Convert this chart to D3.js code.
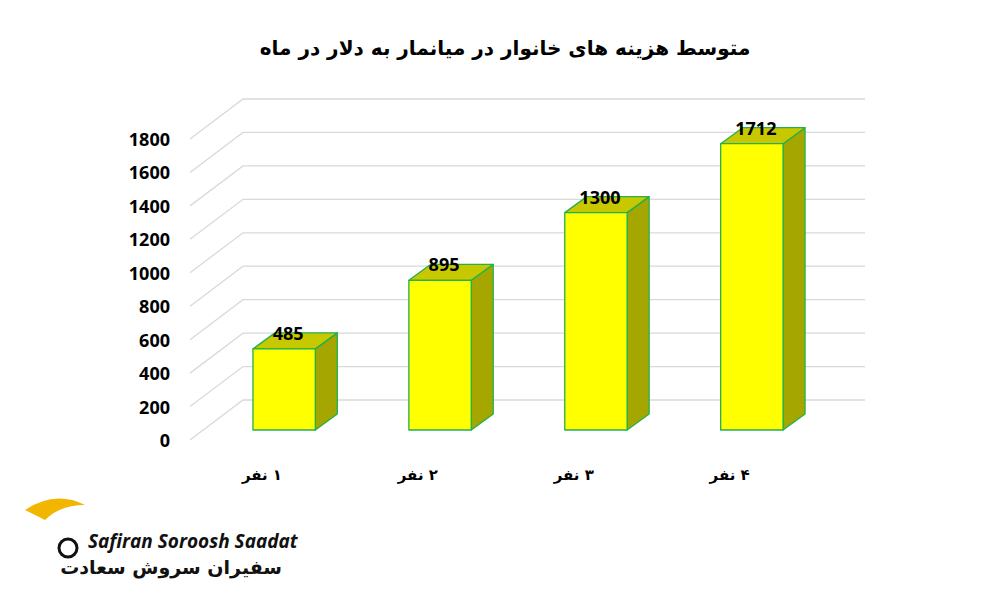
<!DOCTYPE html>
<html><head><meta charset="utf-8">
<script src="https://cdn.jsdelivr.net/npm/d3@7"></script>
<style>body{margin:0;background:#fff}</style></head>
<body><svg id="c" width="1000" height="600"></svg>
<script>
var categories = ["۱ نفر", "۲ نفر", "۳ نفر", "۴ نفر"];
var values = [485, 895, 1300, 1712];
var ticks = [0, 200, 400, 600, 800, 1000, 1200, 1400, 1600, 1800];

var svg = d3.select("#c");
var y = d3.scaleLinear().domain([0, 1800]).range([430, 129]);
var x = d3.scaleBand().domain(categories).range([175, 861]).paddingInner(0.6).paddingOuter(0.5);
var dx = 22, dy = -16;

// gridlines: front diagonal + back horizontal
var g = svg.append("g").attr("stroke", "#d9d9d9").attr("stroke-width", 1.3).attr("fill", "none");
ticks.forEach(function (t) {
    var yf = y(t) + 10, yb = y(t) - 30;
    g.append("path").attr("d", "M190," + yf + "L243," + yb + "H865");
});

svg.append("g").selectAll("text").data(ticks).join("text")
    .attr("x", 170).attr("y", function (d) { return y(d) + 17; })
    .attr("text-anchor", "end")
    .style("font", "bold 18px 'Open Sans', sans-serif").text(function (d) { return d; });

var bars = svg.append("g").selectAll("g").data(values).join("g")
    .attr("stroke", "#22b14c").attr("stroke-width", 1.3).attr("stroke-linejoin", "round");
bars.each(function (v, i) {
    var b = d3.select(this), x0 = x(categories[i]), w = x.bandwidth(), x1 = x0 + w, yt = y(v), y0 = y(0);
    b.append("path").attr("fill", "#a6a600")
        .attr("d", "M" + x1 + "," + yt + "l" + dx + "," + dy + "V" + (y0 + dy) + "l" + (-dx) + "," + (-dy) + "Z");
    b.append("path").attr("fill", "#c8c800")
        .attr("d", "M" + x0 + "," + yt + "l" + dx + "," + dy + "H" + (x1 + dx) + "l" + (-dx) + "," + (-dy) + "Z");
    b.append("rect").attr("fill", "#ffff00").attr("x", x0).attr("y", yt).attr("width", w).attr("height", y0 - yt);
});

svg.append("g").selectAll("text").data(values).join("text")
    .attr("x", function (d, i) { return x(categories[i]) + x.bandwidth() / 2 + 4; })
    .attr("y", function (d) { return y(d) - 9; })
    .attr("text-anchor", "middle")
    .style("font", "bold 18px 'Open Sans', sans-serif").text(function (d) { return d; });

svg.append("g").selectAll("text").data(categories).join("text")
    .attr("x", function (d) { return x(d) + 9; })
    .attr("y", 480).attr("text-anchor", "middle").attr("direction", "rtl")
    .style("font", "bold 15px 'DejaVu Sans', sans-serif").text(function (d) { return d; });

svg.append("text").attr("x", 505).attr("y", 55).attr("text-anchor", "middle").attr("direction", "rtl")
    .style("font", "bold 20px 'DejaVu Sans', sans-serif")
    .text("متوسط هزینه های خانوار در میانمار به دلار در ماه");

// logo
svg.append("text").attr("x", 88).attr("y", 548)
    .style("font", "italic bold 19px 'Open Sans', sans-serif").attr("fill", "#111").text("Safiran Soroosh Saadat");
svg.append("text").attr("x", 282).attr("y", 574).attr("text-anchor", "start").attr("direction", "rtl")
    .style("font", "bold 19px 'DejaVu Sans', sans-serif").attr("fill", "#111").text("سفیران سروش سعادت");
svg.append("path").attr("d", "M25,510 Q55,490 85,505 Q60,505 45,520 Z").attr("fill", "#f2b600");
svg.append("circle").attr("cx", 68).attr("cy", 548).attr("r", 9).attr("fill", "none").attr("stroke", "#111").attr("stroke-width", 3);
</script></body></html>
